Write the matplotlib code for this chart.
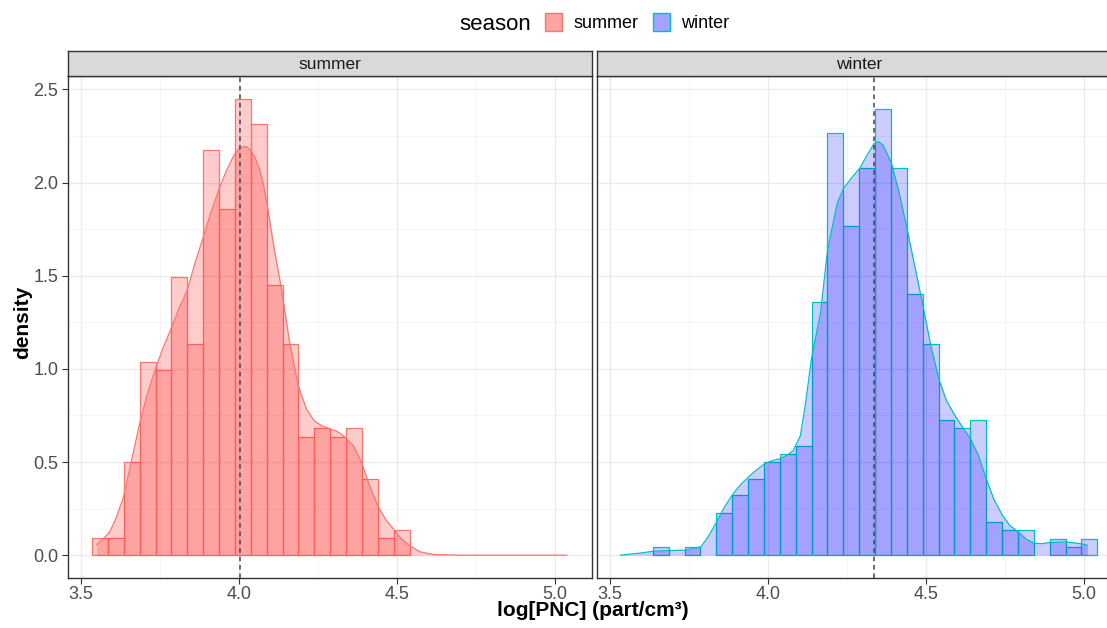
import numpy as np
import matplotlib
matplotlib.use("Agg")
import matplotlib.pyplot as plt
from matplotlib.patches import Rectangle

plt.rcParams['font.family'] = ['Liberation Sans', 'DejaVu Sans']

# histogram bins (shared by both facets)
bin_start = 3.536
bin_width = 0.0502

# summer histogram densities, bins 0..19
summer_hist = [0.093, 0.093, 0.499, 1.039, 0.995, 1.494, 1.132, 2.175, 1.857, 2.446,
               2.312, 1.449, 1.132, 0.633, 0.681, 0.633, 0.681, 0.41, 0.093, 0.137]
# winter histogram densities, bins 2..29
winter_hist = [0.045, 0.0, 0.045, 0.0, 0.226, 0.321, 0.41, 0.499, 0.544, 0.588,
               1.358, 2.264, 1.765, 2.080, 2.397, 2.080, 1.403, 1.132, 0.727, 0.681,
               0.727, 0.178, 0.137, 0.137, 0.0, 0.089, 0.045, 0.089]
winter_first_bin = 2

# density curves
summer_kde_x = [3.550, 3.570, 3.592, 3.612, 3.634, 3.660, 3.685, 3.710, 3.736, 3.760,
                3.787, 3.810, 3.838, 3.860, 3.887, 3.910, 3.937, 3.960, 3.985, 4.000,
                4.014, 4.025, 4.037, 4.050, 4.066, 4.078, 4.090, 4.109, 4.137, 4.160,
                4.188, 4.214, 4.238, 4.262, 4.288, 4.310, 4.330, 4.362, 4.388, 4.410,
                4.439, 4.465, 4.488, 4.510, 4.539, 4.573, 4.615, 4.700, 5.037]
summer_kde_y = [0.057, 0.085, 0.125, 0.200, 0.303, 0.500, 0.695, 0.860, 0.998, 1.110,
                1.221, 1.320, 1.426, 1.560, 1.703, 1.830, 1.961, 2.060, 2.148, 2.180,
                2.193, 2.192, 2.175, 2.140, 2.070, 1.990, 1.880, 1.676, 1.409, 1.150,
                0.909, 0.785, 0.722, 0.695, 0.678, 0.665, 0.642, 0.588, 0.499, 0.390,
                0.267, 0.190, 0.143, 0.095, 0.053, 0.018, 0.004, 0.0, 0.0]
winter_kde_x = [3.534, 3.590, 3.639, 3.690, 3.740, 3.789, 3.812, 3.838, 3.862, 3.887,
                3.912, 3.938, 3.965, 3.990, 4.015, 4.038, 4.060, 4.080, 4.103, 4.120,
                4.138, 4.153, 4.167, 4.178, 4.188, 4.198, 4.210, 4.220, 4.240, 4.265,
                4.291, 4.315, 4.337, 4.351, 4.365, 4.391, 4.415, 4.441, 4.465, 4.491,
                4.515, 4.541, 4.565, 4.592, 4.615, 4.641, 4.665, 4.691, 4.715, 4.742,
                4.765, 4.792, 4.818, 4.843, 4.870, 4.892, 4.944, 4.993, 5.011]
winter_kde_y = [0.0, 0.010, 0.021, 0.025, 0.027, 0.045, 0.100, 0.178, 0.255, 0.321,
                0.375, 0.419, 0.458, 0.490, 0.508, 0.517, 0.535, 0.560, 0.640, 0.820,
                1.052, 1.180, 1.302, 1.470, 1.622, 1.711, 1.810, 1.890, 1.970, 2.025,
                2.077, 2.150, 2.211, 2.219, 2.200, 2.104, 1.950, 1.747, 1.550, 1.337,
                1.130, 0.945, 0.830, 0.749, 0.690, 0.624, 0.540, 0.410, 0.300, 0.214,
                0.160, 0.125, 0.085, 0.063, 0.062, 0.068, 0.071, 0.061, 0.053]

means = {'summer': 4.003, 'winter': 4.335}
seasons = ['summer', 'winter']
line_cols = {'summer': '#F8766D', 'winter': '#00BFC4'}
fill_cols = {'summer': (1, 0, 0, 0.2), 'winter': (0, 0, 1, 0.2)}

W, H = 1107, 628
fig = plt.figure(figsize=(W / 100, H / 100), dpi=100)

panel_w = 524
panels = {'summer': 68, 'winter': 597}
top, bottom = 76, 578
strip_top = 51

data = {
    'summer': (summer_hist, 0, summer_kde_x, summer_kde_y),
    'winter': (winter_hist, winter_first_bin, winter_kde_x, winter_kde_y),
}

for s in seasons:
    x0 = panels[s]
    ax = fig.add_axes([x0 / W, (H - bottom) / H, panel_w / W, (bottom - top) / H])
    hist, first, kx, ky = data[s]
    lefts = [bin_start + bin_width * (first + i) for i in range(len(hist))]
    keep = [i for i, h in enumerate(hist) if h > 0]
    ax.bar([lefts[i] for i in keep], [hist[i] for i in keep], width=bin_width, align='edge',
           color=fill_cols[s], edgecolor=line_cols[s], linewidth=0.9, zorder=2)
    ax.fill_between(kx, ky, 0, color=fill_cols[s], linewidth=0, zorder=3)
    ax.plot(kx, ky, color=line_cols[s], linewidth=0.9, zorder=4)
    ax.axvline(means[s], color='#444444', linestyle=(0, (3, 2.5)), linewidth=1.1, zorder=5)

    ax.set_xlim(3.46, 5.117)
    ax.set_ylim(-0.1225, 2.572)
    ax.set_xticks([3.5, 4.0, 4.5, 5.0])
    ax.set_xticks([3.75, 4.25, 4.75], minor=True)
    ax.set_yticks([0.0, 0.5, 1.0, 1.5, 2.0, 2.5])
    ax.set_yticks([0.25, 0.75, 1.25, 1.75, 2.25], minor=True)
    ax.grid(True, which='major', color='#EBEBEB', linewidth=1.0, zorder=0)
    ax.grid(True, which='minor', color='#F3F3F3', linewidth=0.6, zorder=0)
    ax.set_axisbelow(True)
    for sp in ax.spines.values():
        sp.set_color('#333333')
        sp.set_linewidth(1.0)
    ax.tick_params(which='minor', length=0)
    ax.tick_params(which='major', length=4, color='#333333', labelsize=13,
                   labelcolor='#4D4D4D', pad=3)
    ax.tick_params(axis='x', pad=2)
    ax.set_xticklabels(['3.5', '4.0', '4.5', '5.0'])
    if s == 'summer':
        ax.set_yticklabels(['0.0', '0.5', '1.0', '1.5', '2.0', '2.5'])
    else:
        ax.tick_params(axis='y', left=False, labelleft=False)

    # facet strip
    sax = fig.add_axes([x0 / W, (H - top) / H, panel_w / W, (top - strip_top) / H])
    sax.set_facecolor('#D9D9D9')
    sax.set_xticks([])
    sax.set_yticks([])
    for sp in sax.spines.values():
        sp.set_color('#333333')
        sp.set_linewidth(1.0)
    sax.text(0.5, 0.45, s, ha='center', va='center', fontsize=12.5, color='#1A1A1A',
             transform=sax.transAxes)

fig.text(23 / W, 1 - 322 / H, 'density', rotation=90, ha='center', va='center',
         fontsize=15, fontweight='bold')
fig.text(593 / W, 1 - 611 / H, 'log[PNC] (part/cm³)', ha='center', va='center',
         fontsize=15, fontweight='bold')

# legend on top, drawn by hand
fig.text(495 / W, 1 - 25 / H, 'season', ha='center', va='center', fontsize=16)
key_fill = {'summer': (1, 0.64, 0.64), 'winter': (0.64, 0.64, 1.0)}
key_x = {'summer': 545, 'winter': 653}
for s in seasons:
    fig.patches.append(Rectangle((key_x[s] / W, 1 - 31 / H), 17 / W, 18 / H,
                                 transform=fig.transFigure, facecolor=key_fill[s],
                                 edgecolor=line_cols[s], linewidth=1.0))
    fig.text((key_x[s] + 28) / W, 1 - 23 / H, s, ha='left', va='center', fontsize=13)

fig.savefig('out.png', dpi=100)
